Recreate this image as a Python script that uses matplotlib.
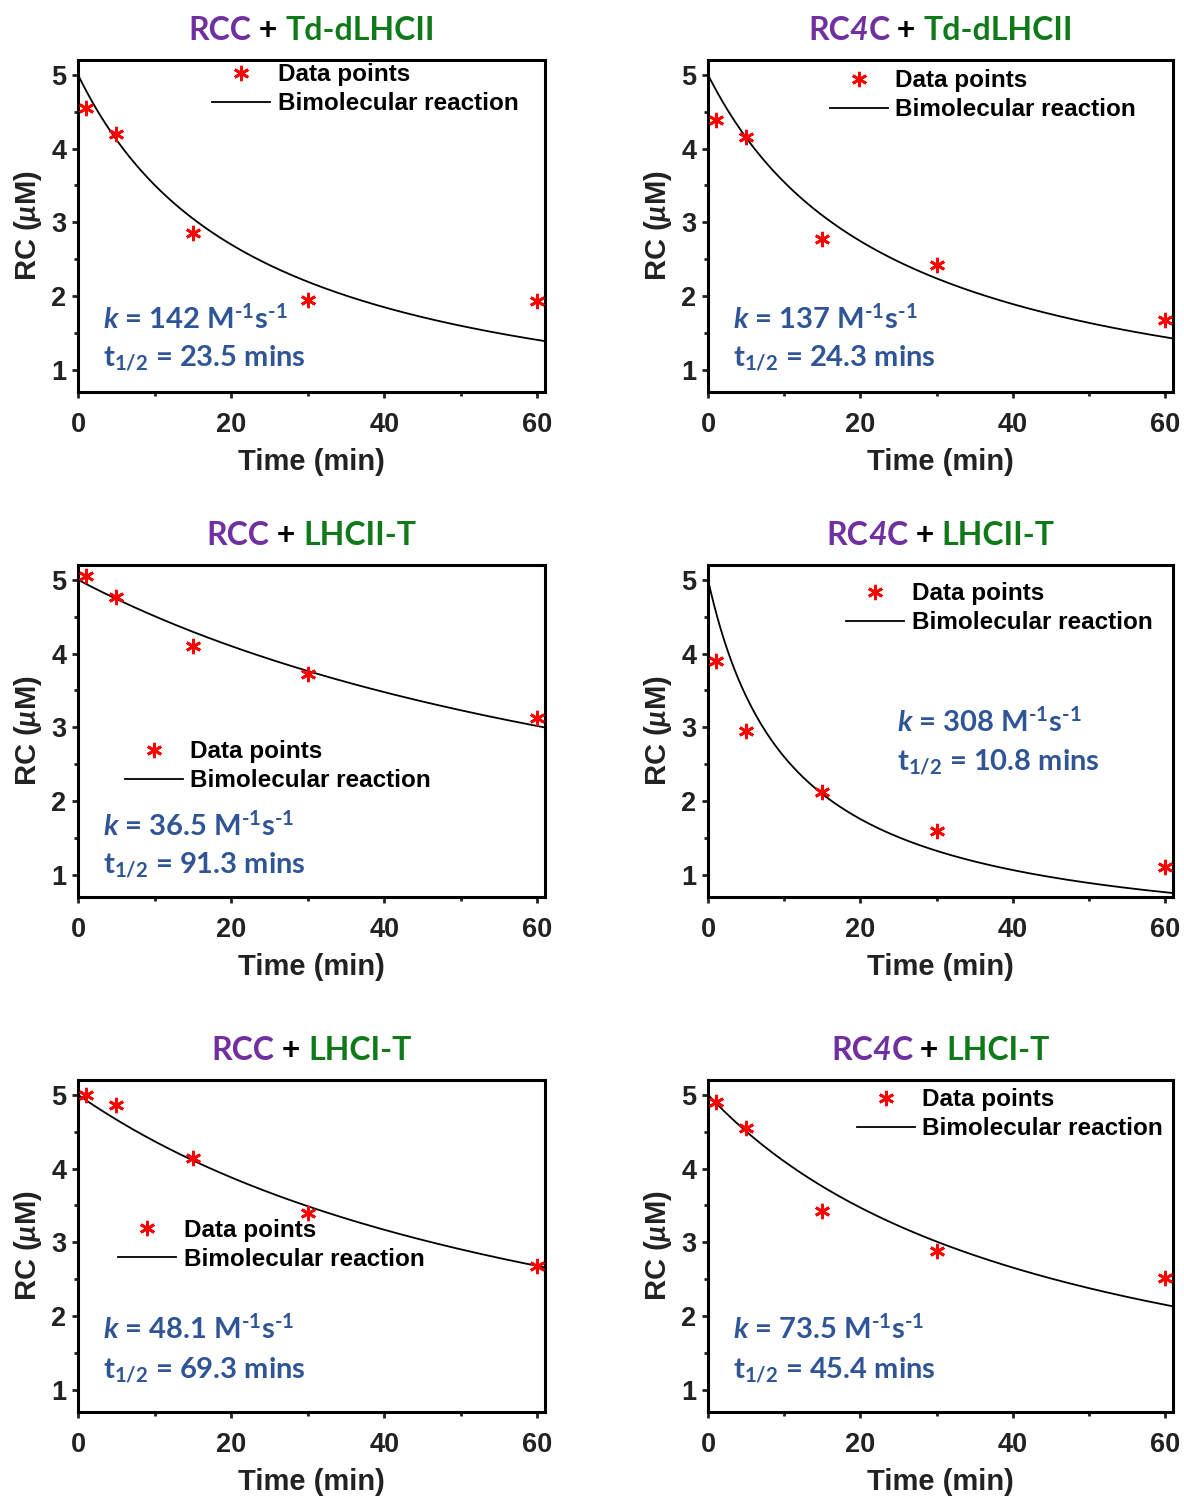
import matplotlib
matplotlib.use("Agg")
import matplotlib.pyplot as plt
import numpy as np
from matplotlib.offsetbox import TextArea, HPacker, AnchoredOffsetbox
from matplotlib.ticker import MultipleLocator

plt.rcParams['mathtext.fontset'] = 'custom'
plt.rcParams['mathtext.rm'] = 'Lato:bold'
plt.rcParams['mathtext.it'] = 'Lato:bold:italic'
plt.rcParams['mathtext.bf'] = 'Lato:bold'

# data
times = [1, 5, 15, 30, 60]
rcc_td_dlhcii = [4.55, 4.20, 2.85, 1.95, 1.93]
rc4c_td_dlhcii = [4.38, 4.15, 2.78, 2.42, 1.67]
rcc_lhcii_t = [5.05, 4.77, 4.10, 3.72, 3.13]
rc4c_lhcii_t = [3.90, 2.95, 2.12, 1.60, 1.10]
rcc_lhci_t = [5.00, 4.86, 4.14, 3.40, 2.68]
rc4c_lhci_t = [4.90, 4.55, 3.43, 2.88, 2.52]

k_values = [142, 137, 36.5, 308, 48.1, 73.5]          # M^-1 s^-1
half_lives = ['23.5', '24.3', '91.3', '10.8', '69.3', '45.4']
rc0 = 5.0  # uM
reaction_cores = ['RCC', 'RC4C', 'RCC', 'RC4C', 'RCC', 'RC4C']
antennas = ['Td-dLHCII', 'Td-dLHCII', 'LHCII-T', 'LHCII-T', 'LHCI-T', 'LHCI-T']
series = [rcc_td_dlhcii, rc4c_td_dlhcii, rcc_lhcii_t, rc4c_lhcii_t, rcc_lhci_t, rc4c_lhci_t]

# layout (pixels) ------------------------------------------------------------
W, H = 1184, 1497
col_left = [78, 708]
col_width = [467, 465]
row_top = [60, 565, 1080]
row_height = 332

# per-panel text placement (axes fraction)
legend_anchor = [(0.287, 0.99), (0.262, 0.972), (0.100, 0.472),
                 (0.297, 0.948), (0.086, 0.582), (0.320, 0.975)]
note_pos = [(0.054, 0.22, 0.10), (0.054, 0.22, 0.10), (0.054, 0.214, 0.094),
            (0.406, 0.527, 0.405), (0.054, 0.25, 0.125), (0.054, 0.25, 0.125)]

purple = '#7030A0'
green = '#10791A'
blue = '#2F5597'
tick_font = 'Liberation Sans'
title_font = 'Lato'

fig = plt.figure(figsize=(W / 100, H / 100), dpi=100)

for i in range(6):
    r, c = i // 2, i % 2
    ax = fig.add_axes([col_left[c] / W, 1 - (row_top[r] + row_height) / H,
                       col_width[c] / W, row_height / H])

    t = np.linspace(0, 61, 300)
    fit = rc0 / (1 + k_values[i] * rc0 * 1e-6 * t * 60)
    ax.plot(times, series[i], linestyle='none', marker=(6, 2, 0), color='red',
            markersize=11, markeredgewidth=2, label='Data points', zorder=3)
    ax.plot(t, fit, color='black', lw=1.3, label='Bimolecular reaction')

    ax.set_xlim(0, 61)
    ax.set_ylim(0.7, 5.2)
    ax.xaxis.set_major_locator(MultipleLocator(20))
    ax.xaxis.set_minor_locator(MultipleLocator(10))
    ax.yaxis.set_major_locator(MultipleLocator(1))
    ax.yaxis.set_minor_locator(MultipleLocator(0.5))
    ax.tick_params(which='both', direction='out', width=2, color='#222222',
                   top=False, right=False)
    ax.tick_params(which='major', length=4.5)
    ax.tick_params(which='minor', length=3)
    ax.tick_params(axis='x', pad=10)
    ax.tick_params(axis='y', pad=4)
    for lab in ax.get_xticklabels() + ax.get_yticklabels():
        lab.set_fontfamily(tick_font)
        lab.set_fontweight('bold')
        lab.set_fontsize(19.5)
        lab.set_color('#222222')
    for sp in ax.spines.values():
        sp.set_linewidth(2.2)
        sp.set_color('black')

    ax.set_xlabel('Time (min)', fontfamily=tick_font, fontweight='bold',
                  fontsize=21, color='#222222', labelpad=7)
    ax.set_ylabel(r'RC ($\mu$M)', fontfamily=tick_font, fontweight='bold',
                  fontsize=21, color='#222222', labelpad=5)

    leg = ax.legend(loc='upper left', bbox_to_anchor=legend_anchor[i],
                    frameon=False, borderaxespad=0, borderpad=0,
                    handlelength=2.4, handletextpad=0.3, labelspacing=0.25,
                    prop={'family': tick_font, 'weight': 'bold', 'size': 17.5})

    nx, ky, ty = note_pos[i]
    ax.text(nx, ky, r'$k$ = %s M$^{\text{-1}}$s$^{\text{-1}}$' % k_values[i],
            transform=ax.transAxes, color=blue, fontfamily=title_font,
            fontweight='bold', fontsize=21, va='center', ha='left')
    ax.text(nx, ty, r't$_{\text{1/2}}$ = %s mins' % half_lives[i],
            transform=ax.transAxes, color=blue, fontfamily=title_font,
            fontweight='bold', fontsize=21, va='center', ha='left')

    # coloured title
    tp = dict(fontfamily=title_font, fontweight='bold', fontsize=23)
    rc_name = reaction_cores[i]
    parts = []
    if rc_name == 'RC4C':
        parts.append(TextArea('RC', textprops=dict(color=purple, **tp)))
        parts.append(TextArea('4', textprops=dict(color=purple, style='italic', **tp)))
        parts.append(TextArea('C', textprops=dict(color=purple, **tp)))
    else:
        parts.append(TextArea(rc_name, textprops=dict(color=purple, **tp)))
    parts.append(TextArea(' + ', textprops=dict(color='black', **tp)))
    parts.append(TextArea(antennas[i], textprops=dict(color=green, **tp)))
    box = HPacker(children=parts, sep=0, pad=0, align='baseline')
    anchored = AnchoredOffsetbox(loc='lower center', child=box, pad=0,
                                 frameon=False, bbox_to_anchor=(0.5, 1.045),
                                 bbox_transform=ax.transAxes, borderpad=0)
    ax.add_artist(anchored)

fig.savefig('out.png', dpi=100)
